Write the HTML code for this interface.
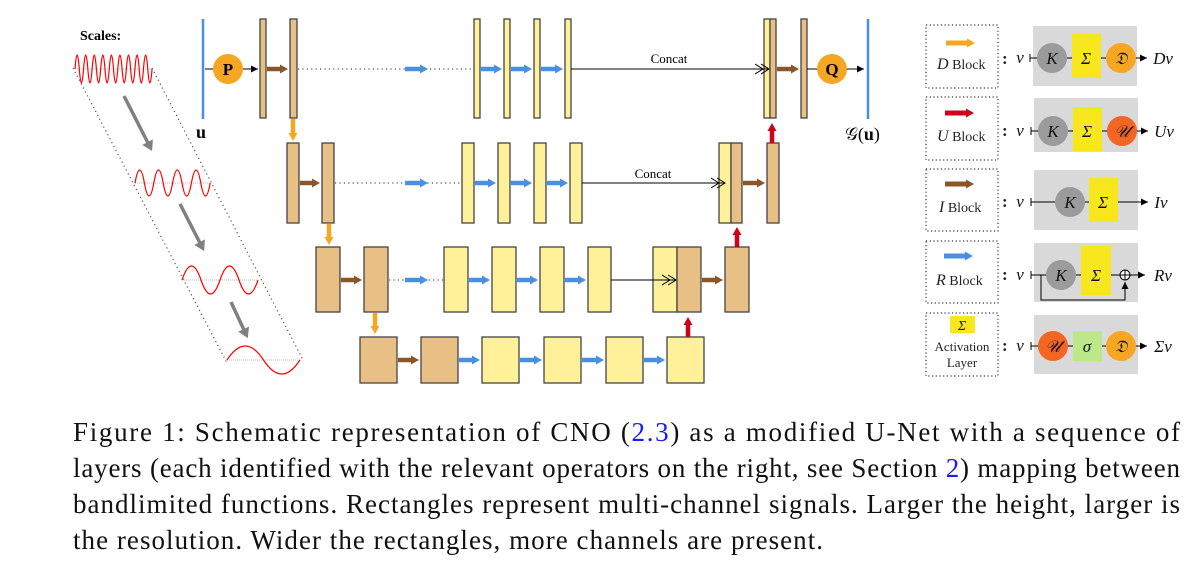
<!DOCTYPE html>
<html><head><meta charset="utf-8"><style>
html,body{margin:0;padding:0;background:#fff;width:1202px;height:570px;overflow:hidden}
svg{display:block}
.t{fill:#e8bf85;stroke:#444;stroke-width:1.3}
.y{fill:#fff19a;stroke:#444;stroke-width:1.3}
.dot{stroke:#555;stroke-width:1.2;stroke-dasharray:1.2 3.2;fill:none}
.cap{font-family:"Liberation Serif",serif;font-size:27px;fill:#111}
.it{font-family:"Liberation Serif",serif;font-style:italic}
.sr{font-family:"Liberation Serif",serif}
</style></head><body>
<svg width="1202" height="570" viewBox="0 0 1202 570" xmlns="http://www.w3.org/2000/svg">
<defs>
<marker id="hb" markerUnits="userSpaceOnUse" markerWidth="10" markerHeight="12" refX="1" refY="6" orient="auto"><path d="M0,1.5 L8,6 L0,10.5 Z" fill="#4a90e2"/></marker>
<marker id="hr" markerUnits="userSpaceOnUse" markerWidth="10" markerHeight="12" refX="1" refY="6" orient="auto"><path d="M0,1.5 L8,6 L0,10.5 Z" fill="#d0021b"/></marker>
<marker id="hw" markerUnits="userSpaceOnUse" markerWidth="10" markerHeight="12" refX="1" refY="6" orient="auto"><path d="M0,1.5 L8,6 L0,10.5 Z" fill="#8b572a"/></marker>
<marker id="ho" markerUnits="userSpaceOnUse" markerWidth="10" markerHeight="12" refX="1" refY="6" orient="auto"><path d="M0,1.5 L8,6 L0,10.5 Z" fill="#f5a623"/></marker>
<marker id="hg" markerUnits="userSpaceOnUse" markerWidth="12" markerHeight="14" refX="1" refY="7" orient="auto"><path d="M0,1 L10,7 L0,13 Z" fill="#808080"/></marker>
<marker id="hk" markerUnits="userSpaceOnUse" markerWidth="8" markerHeight="8" refX="7" refY="4" orient="auto"><path d="M0,0.5 L7,4 L0,7.5 Z" fill="#000"/></marker>
<marker id="hd" markerUnits="userSpaceOnUse" markerWidth="16" markerHeight="12" refX="14" refY="6" orient="auto"><path d="M0,1 L8,6 L0,11 M6,1 L14,6 L6,11" fill="none" stroke="#000" stroke-width="1"/></marker>
</defs>

<!-- scales -->
<text x="80" y="40" class="sr" font-weight="bold" font-size="14">Scales:</text>
<path class="dot" d="M73,68 L227,363 M152,68 L303,360"/>
<g stroke="#bbb" stroke-width="1" stroke-dasharray="1 1"><line x1="75" y1="69" x2="152" y2="69"/><line x1="135" y1="183" x2="210" y2="183"/><line x1="182" y1="280" x2="258" y2="280"/><line x1="227" y1="360" x2="300" y2="360"/></g>
<g fill="none" stroke="#f00" stroke-width="1.2">
<path d="M75,69 q2.14,-28 4.28,0 t4.28,0 t4.28,0 t4.28,0 t4.28,0 t4.28,0 t4.28,0 t4.28,0 t4.28,0 t4.28,0 t4.28,0 t4.28,0 t4.28,0 t4.28,0 t4.28,0 t4.28,0 t4.28,0 t4.28,0"/>
<path d="M135,183 q4.7,-26 9.4,0 t9.4,0 t9.4,0 t9.4,0 t9.4,0 t9.4,0 t9.4,0 t9.4,0"/>
<path d="M182,280 q9.5,-28 19,0 t19,0 t19,0 t19,0"/>
<path d="M227,360 q18.25,-28 36.5,0 t36.5,0"/>
</g>
<g stroke="#808080" stroke-width="3.5" fill="none">
<line x1="124" y1="96" x2="148" y2="143" marker-end="url(#hg)"/>
<line x1="180" y1="204" x2="200" y2="243" marker-end="url(#hg)"/>
<line x1="231" y1="302" x2="244" y2="330" marker-end="url(#hg)"/>
</g>

<!-- row 1 -->
<line x1="203" y1="19" x2="203" y2="119" stroke="#4a90e2" stroke-width="2.5"/>
<text x="196" y="138" class="sr" font-weight="bold" font-size="18">u</text>
<line x1="205" y1="69" x2="258" y2="69" stroke="#000" stroke-width="1" marker-end="url(#hk)"/>
<circle cx="228" cy="69" r="15" fill="#f5a623"/>
<text x="228" y="75" text-anchor="middle" class="sr" font-weight="bold" font-size="17">P</text>
<rect class="t" x="260" y="19" width="6" height="99"/>
<rect class="t" x="290" y="19" width="7" height="99"/>
<line class="dot" x1="298" y1="69" x2="474" y2="69"/>
<rect class="y" x="474" y="19" width="6" height="99"/>
<rect class="y" x="504" y="19" width="6" height="99"/>
<rect class="y" x="534" y="19" width="6" height="99"/>
<rect class="y" x="565" y="19" width="6" height="99"/>
<text x="669" y="63" text-anchor="middle" class="sr" font-size="13">Concat</text>
<rect class="y" x="764" y="19" width="6" height="99"/>
<rect class="t" x="770" y="19" width="6" height="99"/>
<line x1="571" y1="69" x2="769" y2="69" stroke="#000" stroke-width="1" marker-end="url(#hd)"/>
<rect class="t" x="801" y="19" width="6" height="99"/>
<line x1="807" y1="69" x2="864" y2="69" stroke="#000" stroke-width="1" marker-end="url(#hk)"/>
<circle cx="832" cy="69" r="15" fill="#f5a623"/>
<text x="832" y="75" text-anchor="middle" class="sr" font-weight="bold" font-size="17">Q</text>
<line x1="868" y1="19" x2="868" y2="119" stroke="#4a90e2" stroke-width="2.5"/>
<text x="845" y="140" class="sr" font-size="18">𝒢(<tspan font-weight="bold">u</tspan>)</text>

<!-- row 2 -->
<rect class="t" x="287" y="143" width="12" height="80"/>
<rect class="t" x="322" y="143" width="12" height="80"/>
<line class="dot" x1="335" y1="183" x2="462" y2="183"/>
<rect class="y" x="462" y="143" width="12" height="80"/>
<rect class="y" x="498" y="143" width="12" height="80"/>
<rect class="y" x="534" y="143" width="12" height="80"/>
<rect class="y" x="570" y="143" width="12" height="80"/>
<text x="653" y="178" text-anchor="middle" class="sr" font-size="13">Concat</text>
<rect class="y" x="719" y="143" width="12" height="80"/>
<rect class="t" x="731" y="143" width="11" height="80"/>
<line x1="582" y1="183" x2="725" y2="183" stroke="#000" stroke-width="1" marker-end="url(#hd)"/>
<rect class="t" x="767" y="143" width="12" height="80"/>

<!-- row 3 -->
<rect class="t" x="316" y="247" width="24" height="65"/>
<rect class="t" x="364" y="247" width="24" height="65"/>
<line class="dot" x1="389" y1="280" x2="444" y2="280"/>
<rect class="y" x="444" y="247" width="24" height="65"/>
<rect class="y" x="492" y="247" width="24" height="65"/>
<rect class="y" x="540" y="247" width="24" height="65"/>
<rect class="y" x="588" y="247" width="23" height="65"/>
<rect class="y" x="653" y="247" width="24" height="65"/>
<rect class="t" x="677" y="247" width="24" height="65"/>
<line x1="611" y1="280" x2="676" y2="280" stroke="#000" stroke-width="1" marker-end="url(#hd)"/>
<rect class="t" x="725" y="247" width="24" height="65"/>

<!-- row 4 -->
<rect class="t" x="360" y="337" width="37" height="46"/>
<rect class="t" x="421" y="337" width="37" height="46"/>
<rect class="y" x="482" y="337" width="37" height="46"/>
<rect class="y" x="544" y="337" width="37" height="46"/>
<rect class="y" x="606" y="337" width="37" height="46"/>
<rect class="y" x="667" y="337" width="37" height="46"/>

<!-- thick arrows -->
<g stroke-width="4.5" fill="none">
<g stroke="#4a90e2" marker-end="url(#hb)">
<line x1="405" y1="69" x2="421" y2="69"/><line x1="481" y1="69" x2="495" y2="69"/><line x1="511" y1="69" x2="525" y2="69"/><line x1="541" y1="69" x2="556" y2="69"/>
<line x1="405" y1="183" x2="421" y2="183"/><line x1="475" y1="183" x2="489" y2="183"/><line x1="511" y1="183" x2="525" y2="183"/><line x1="547" y1="183" x2="561" y2="183"/>
<line x1="405" y1="280" x2="421" y2="280"/><line x1="469" y1="280" x2="483" y2="280"/><line x1="517" y1="280" x2="531" y2="280"/><line x1="565" y1="280" x2="579" y2="280"/>
<line x1="459" y1="360" x2="473" y2="360"/><line x1="520" y1="360" x2="535" y2="360"/><line x1="582" y1="360" x2="597" y2="360"/><line x1="644" y1="360" x2="658" y2="360"/>
</g>
<g stroke="#8b572a" marker-end="url(#hw)">
<line x1="267" y1="69" x2="281" y2="69"/><line x1="777" y1="69" x2="792" y2="69"/>
<line x1="300" y1="183" x2="313" y2="183"/><line x1="743" y1="183" x2="758" y2="183"/>
<line x1="341" y1="280" x2="355" y2="280"/><line x1="702" y1="280" x2="716" y2="280"/>
<line x1="398" y1="360" x2="412" y2="360"/>
</g>
<g stroke="#f5a623" marker-end="url(#ho)">
<line x1="293" y1="119" x2="293" y2="134"/><line x1="329" y1="224" x2="329" y2="238"/><line x1="375" y1="313" x2="375" y2="327"/>
</g>
<g stroke="#d0021b" marker-end="url(#hr)">
<line x1="772" y1="143" x2="772" y2="130"/><line x1="737" y1="247" x2="737" y2="234"/><line x1="688" y1="337" x2="688" y2="324"/>
</g>
</g>

<!-- legend -->
<g fill="none" stroke="#333" stroke-width="1.2" stroke-dasharray="1.2 2.5">
<rect x="926" y="25" width="72" height="63"/><rect x="926" y="97" width="72" height="63"/><rect x="926" y="169" width="72" height="62"/><rect x="926" y="241" width="72" height="62"/><rect x="926" y="313" width="72" height="63"/>
</g>
<g fill="#d9d9d9">
<rect x="1033" y="26" width="104" height="60"/><rect x="1034" y="98" width="104" height="54"/><rect x="1034" y="170" width="104" height="60"/><rect x="1034" y="243" width="104" height="59"/><rect x="1034" y="315" width="104" height="59"/>
</g>
<g stroke-width="5" fill="none">
<line x1="946" y1="43" x2="968" y2="43" stroke="#f5a623" marker-end="url(#ho)"/>
<line x1="945" y1="113" x2="967" y2="113" stroke="#d0021b" marker-end="url(#hr)"/>
<line x1="945" y1="184" x2="967" y2="184" stroke="#8b572a" marker-end="url(#hw)"/>
<line x1="944" y1="256" x2="966" y2="256" stroke="#4a90e2" marker-end="url(#hb)"/>
</g>
<g font-size="14" class="sr" fill="#222">
<text x="937" y="69"><tspan class="it" font-size="16">D</tspan> Block</text>
<text x="937" y="141"><tspan class="it" font-size="16">U</tspan> Block</text>
<text x="939" y="212"><tspan class="it" font-size="16">I</tspan> Block</text>
<text x="936" y="285"><tspan class="it" font-size="16">R</tspan> Block</text>
<rect x="950" y="316" width="25" height="17" fill="#f8e71c"/>
<text x="962" y="330" text-anchor="middle" class="it" font-size="14">Σ</text>
<text x="962" y="351" text-anchor="middle" font-size="13">Activation</text>
<text x="962" y="367" text-anchor="middle" font-size="13">Layer</text>
<text x="1002" y="64" font-size="17" font-weight="bold">:</text>
<text x="1002" y="136" font-size="17" font-weight="bold">:</text>
<text x="1002" y="207" font-size="17" font-weight="bold">:</text>
<text x="1002" y="280" font-size="17" font-weight="bold">:</text>
<text x="1002" y="351" font-size="17" font-weight="bold">:</text>
</g>
<g stroke="#000" stroke-width="1" fill="none">
<line x1="1030" y1="58" x2="1147" y2="58" marker-end="url(#hk)"/><line x1="1030" y1="54" x2="1030" y2="62"/>
<line x1="1031" y1="131" x2="1148" y2="131" marker-end="url(#hk)"/><line x1="1031" y1="127" x2="1031" y2="135"/>
<line x1="1031" y1="202" x2="1148" y2="202" marker-end="url(#hk)"/><line x1="1031" y1="198" x2="1031" y2="206"/>
<line x1="1031" y1="275" x2="1145" y2="275" marker-end="url(#hk)"/><line x1="1031" y1="271" x2="1031" y2="279"/>
<path d="M1041,275 V300 H1125 V282" marker-end="url(#hk)"/>
<line x1="1031" y1="346" x2="1147" y2="346" marker-end="url(#hk)"/><line x1="1031" y1="342" x2="1031" y2="350"/>
</g>
<circle cx="1125" cy="275" r="5" fill="#fff" stroke="#000"/>
<path d="M1120,275 H1130 M1125,270 V280" stroke="#000"/>
<g fill="#9b9b9b"><circle cx="1052" cy="58" r="15"/><circle cx="1053" cy="131" r="15"/><circle cx="1070" cy="202" r="15"/><circle cx="1061" cy="275" r="15"/></g>
<g fill="#f8e71c"><rect x="1072" y="34" width="29" height="44"/><rect x="1073" y="107" width="29" height="44"/><rect x="1089" y="178" width="29" height="44"/><rect x="1081" y="246" width="30" height="49"/></g>
<rect x="1073" y="331" width="29" height="30" fill="#bde88a"/>
<circle cx="1121" cy="58" r="15" fill="#f5a623"/>
<circle cx="1122" cy="131" r="15" fill="#f26522"/>
<circle cx="1053" cy="346" r="15" fill="#f26522"/>
<circle cx="1121" cy="346" r="15" fill="#f5a623"/>
<g class="it" font-size="17" fill="#111" text-anchor="middle">
<text x="1020" y="63">v</text><text x="1020" y="136">v</text><text x="1020" y="207">v</text><text x="1020" y="280">v</text><text x="1020" y="351">v</text>
<text x="1052" y="64">K</text><text x="1053" y="137">K</text><text x="1070" y="208">K</text><text x="1061" y="281">K</text>
<text x="1086" y="64">Σ</text><text x="1087" y="137">Σ</text><text x="1103" y="208">Σ</text><text x="1096" y="281">Σ</text>
<text x="1121" y="64">𝔇</text><text x="1122" y="137">𝒰</text><text x="1053" y="352">𝒰</text><text x="1087" y="352">σ</text><text x="1121" y="352">𝔇</text>
<text x="1163" y="64">Dv</text><text x="1164" y="137">Uv</text><text x="1161" y="208">Iv</text><text x="1163" y="281">Rv</text><text x="1163" y="352">Σv</text>
</g>

<!-- caption -->
<text class="cap" x="73" y="441" textLength="1107" lengthAdjust="spacing">Figure 1: Schematic representation of CNO (<tspan fill="#1a1aff">2.3</tspan>) as a modified U-Net with a sequence of</text>
<text class="cap" x="73" y="477" textLength="1107" lengthAdjust="spacing">layers (each identified with the relevant operators on the right, see Section <tspan fill="#1a1aff">2</tspan>) mapping between</text>
<text class="cap" x="73" y="513" textLength="1107" lengthAdjust="spacing">bandlimited functions. Rectangles represent multi-channel signals. Larger the height, larger is</text>
<text class="cap" x="73" y="549" textLength="750" lengthAdjust="spacing">the resolution. Wider the rectangles, more channels are present.</text>
</svg>
</body></html>
